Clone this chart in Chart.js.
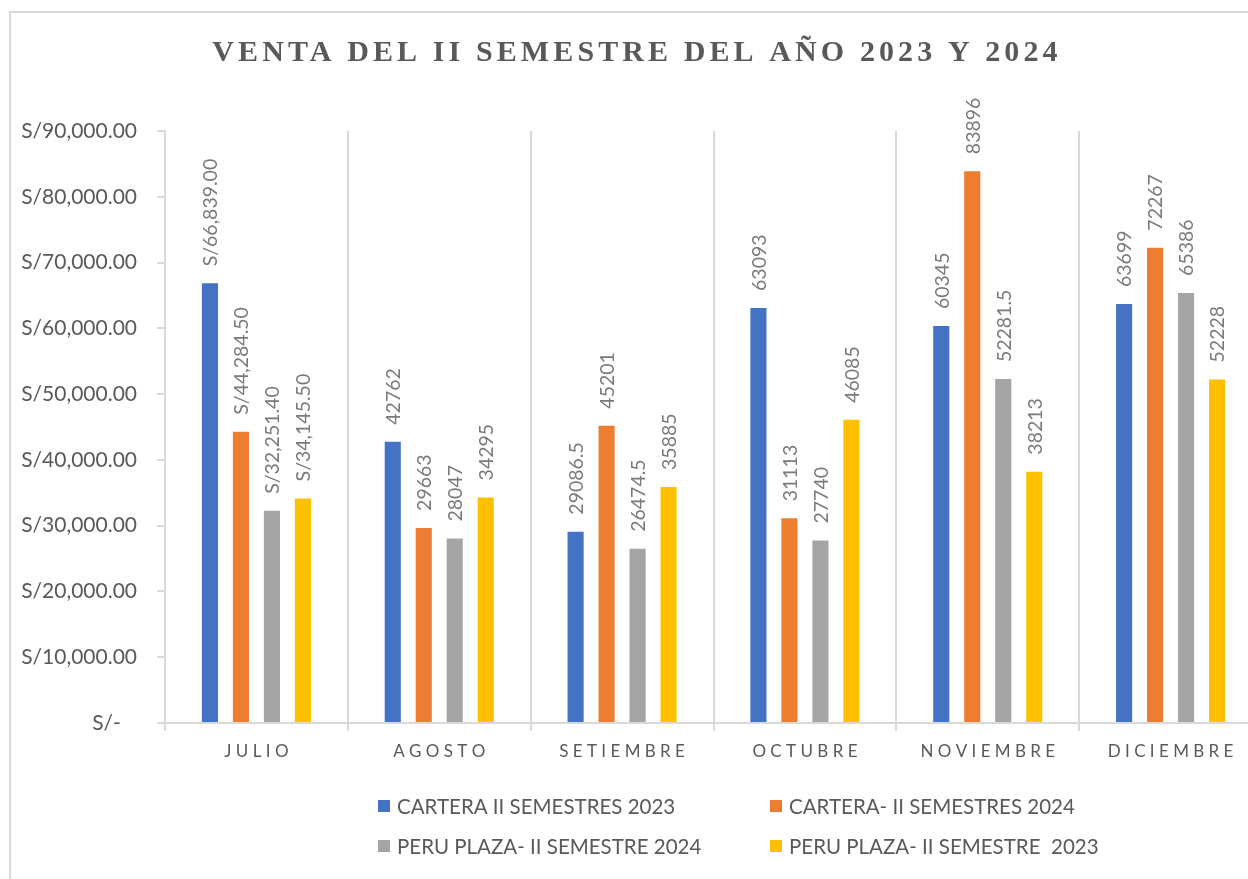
<!DOCTYPE html>
<html>
<head>
<meta charset="utf-8">
<script src="https://cdn.jsdelivr.net/npm/chart.js@4"></script>
<style>
    html, body { margin: 0; padding: 0; overflow: hidden; background: #fff; }
    #frame {
        position: absolute; left: 9px; top: 11px;
        width: 1250px; height: 900px;
        border: 2px solid #d9d9d9; box-sizing: border-box;
    }
    #wrap { position: absolute; left: 0; top: 0; width: 1272px; height: 879px; }
</style>
</head>
<body>
<div id="frame"></div>
<div id="wrap"><canvas id="ventas"></canvas></div>
<script>
// Data
const chartTitle = 'VENTA DEL II SEMESTRE DEL AÑO 2023 Y 2024';
const months = ['JULIO', 'AGOSTO', 'SETIEMBRE', 'OCTUBRE', 'NOVIEMBRE', 'DICIEMBRE'];
const seriesNames = [
    'CARTERA II SEMESTRES 2023',
    'CARTERA- II SEMESTRES 2024',
    'PERU PLAZA- II SEMESTRE 2024',
    'PERU PLAZA- II SEMESTRE  2023'
];
const cartera2023 = [66839, 42762, 29086.5, 63093, 60345, 63699];
const cartera2024 = [44284.5, 29663, 45201, 31113, 83896, 72267];
const peruPlaza2024 = [32251.4, 28047, 26474.5, 27740, 52281.5, 65386];
const peruPlaza2023 = [34145.5, 34295, 35885, 46085, 38213, 52228];
// only the first month shows its labels in currency format
const currencyLabelMonths = ['JULIO'];
const yMax = 90000;
const yStep = 10000;

const colors = ['#4472C4', '#ED7D31', '#A5A5A5', '#FFC000'];
const FONT = 'Lato, "Liberation Sans", sans-serif';

function soles(v) {
    if (v === 0) return 'S/-   ';
    return 'S/' + v.toLocaleString('en-US', { minimumFractionDigits: 2, maximumFractionDigits: 2 });
}

// Title with letter spacing, centred on the frame
const titlePlugin = {
    id: 'spacedTitle',
    afterDraw(chart) {
        const ctx = chart.ctx;
        ctx.save();
        ctx.font = 'bold 30px "Liberation Serif", "Times New Roman", serif';
        ctx.fillStyle = '#595959';
        ctx.letterSpacing = '4.1px';
        ctx.textAlign = 'center';
        ctx.textBaseline = 'alphabetic';
        ctx.fillText(chartTitle, 637, 61);
        ctx.restore();
    }
};

// Rotated value labels above each bar
const valueLabels = {
    id: 'valueLabels',
    afterDatasetsDraw(chart) {
        const ctx = chart.ctx;
        ctx.save();
        ctx.font = '19.5px ' + FONT;
        ctx.fillStyle = '#7a7a7a';
        ctx.textAlign = 'left';
        ctx.textBaseline = 'middle';
        chart.data.datasets.forEach((ds, di) => {
            chart.getDatasetMeta(di).data.forEach((bar, i) => {
                const v = ds.data[i];
                const txt = currencyLabelMonths.includes(chart.data.labels[i]) ? soles(v) : String(v);
                ctx.save();
                ctx.translate(bar.x + 1, bar.y - 17);
                ctx.rotate(-Math.PI / 2);
                ctx.fillText(txt, 0, 0);
                ctx.restore();
            });
        });
        ctx.restore();
    }
};

// Two-column legend like the spreadsheet one
const gridLegend = {
    id: 'gridLegend',
    afterDraw(chart) {
        const ctx = chart.ctx;
        const cols = [378, 770];
        const rows = [806, 846];
        ctx.save();
        ctx.font = '20.5px ' + FONT;
        ctx.textBaseline = 'middle';
        ctx.textAlign = 'left';
        chart.data.datasets.forEach((ds, i) => {
            const x = cols[i % 2];
            const y = rows[Math.floor(i / 2)];
            ctx.fillStyle = ds.backgroundColor;
            ctx.fillRect(x, y - 6, 12, 12);
            ctx.fillStyle = '#595959';
            ctx.fillText(ds.label, x + 19, y + 1);
        });
        ctx.restore();
    }
};

const seriesData = [cartera2023, cartera2024, peruPlaza2024, peruPlaza2023];

new Chart(document.getElementById('ventas'), {
    type: 'bar',
    data: {
        labels: months,
        datasets: seriesData.map((d, i) => ({
            label: seriesNames[i],
            data: d,
            backgroundColor: colors[i],
            borderWidth: 0,
            categoryPercentage: 0.678,
            barPercentage: 0.52
        }))
    },
    options: {
        responsive: true,
        maintainAspectRatio: false,
        animation: false,
        layout: { padding: { top: 131, right: 10, bottom: 106, left: 0 } },
        plugins: {
            legend: { display: false },
            title: { display: false },
            tooltip: { enabled: false }
        },
        scales: {
            x: {
                grid: { color: '#d9d9d9', lineWidth: 2, tickLength: 8, offset: true },
                border: { color: '#d9d9d9', width: 2 },
                ticks: {
                    color: '#595959',
                    font: { family: FONT, size: 17 },
                    padding: 10,
                    maxRotation: 0,
                    callback: function (val) {
                        return this.getLabelForValue(val).split('').join(' ');
                    }
                },
                afterFit(scale) { scale.height = 50; }
            },
            y: {
                min: 0,
                max: yMax,
                ticks: {
                    stepSize: yStep,
                    color: '#595959',
                    font: { family: FONT, size: 21 },
                    padding: 20,
                    callback: v => soles(v)
                },
                grid: { drawOnChartArea: false, color: '#d9d9d9', lineWidth: 2, tickLength: 8 },
                border: { color: '#d9d9d9', width: 2 },
                afterFit(scale) { scale.width = 165; }
            }
        }
    },
    plugins: [titlePlugin, valueLabels, gridLegend]
});
</script>
</body>
</html>
